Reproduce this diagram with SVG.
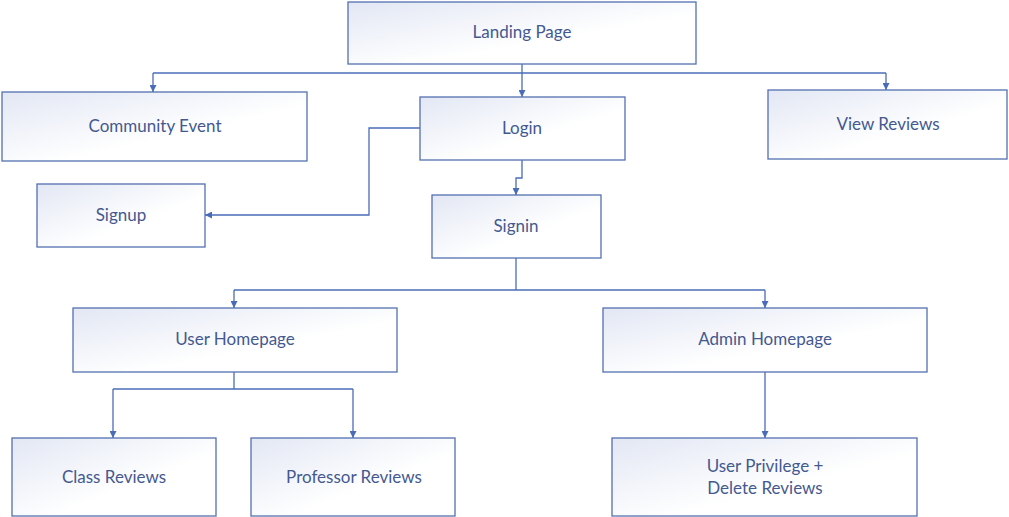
<svg xmlns="http://www.w3.org/2000/svg" width="1009" height="517" viewBox="0 0 1009 517">
<style>
.box{fill:url(#g);stroke:#5470b0;stroke-width:1.3}
.t{font-family:Lato,"Open Sans",sans-serif;font-size:17px;fill:#44598f;text-anchor:middle;dominant-baseline:central}
.c{fill:none;stroke:#4a6cb8;stroke-width:1.3}
</style>
<defs>
<linearGradient id="g" x1="0" y1="0" x2="1" y2="1">
<stop offset="0" stop-color="#e2e7f4"/>
<stop offset="0.6" stop-color="#ffffff"/>
</linearGradient>
<marker id="a" viewBox="0 0 10 10" refX="10" refY="5" markerWidth="7" markerHeight="7" orient="auto-start-reverse" markerUnits="userSpaceOnUse">
<path d="M0,0 L10,5 L0,10 z" fill="#4a6cb8"/>
</marker>
</defs>
<rect width="1009" height="517" fill="#ffffff"/>
<g id="connectors">
<path class="c" d="M522,64 V73"/>
<path class="c" d="M153,73 H886"/>
<path class="c" d="M153,73 V92" marker-end="url(#a)"/>
<path class="c" d="M522,73 V97" marker-end="url(#a)"/>
<path class="c" d="M886,73 V90" marker-end="url(#a)"/>
<path class="c" d="M420,128 H369 V215 H205" marker-end="url(#a)"/>
<path class="c" d="M522,160 V178 H516 V195" marker-end="url(#a)"/>
<path class="c" d="M516,258 V290"/>
<path class="c" d="M234,290 H765"/>
<path class="c" d="M234,290 V308" marker-end="url(#a)"/>
<path class="c" d="M765,290 V308" marker-end="url(#a)"/>
<path class="c" d="M234,372 V389"/>
<path class="c" d="M113,389 H353"/>
<path class="c" d="M113,389 V438" marker-end="url(#a)"/>
<path class="c" d="M353,389 V438" marker-end="url(#a)"/>
<path class="c" d="M765,372 V438" marker-end="url(#a)"/>
</g>
<g id="landing"><rect class="box" x="348" y="2" width="348" height="62"/><text class="t" x="522" y="31">Landing Page</text></g>
<g id="community"><rect class="box" x="2" y="92" width="305" height="69"/><text class="t" x="155" y="125">Community Event</text></g>
<g id="login"><rect class="box" x="420" y="97" width="205" height="63"/><text class="t" x="522" y="127">Login</text></g>
<g id="view"><rect class="box" x="768" y="90" width="239" height="69"/><text class="t" x="888" y="123">View Reviews</text></g>
<g id="signup"><rect class="box" x="37" y="184" width="168" height="63"/><text class="t" x="121" y="214">Signup</text></g>
<g id="signin"><rect class="box" x="432" y="195" width="169" height="63"/><text class="t" x="516" y="225">Signin</text></g>
<g id="userhome"><rect class="box" x="73" y="308" width="324" height="64"/><text class="t" x="235" y="338">User Homepage</text></g>
<g id="adminhome"><rect class="box" x="603" y="308" width="324" height="64"/><text class="t" x="765" y="338">Admin Homepage</text></g>
<g id="classrev"><rect class="box" x="12" y="438" width="204" height="78"/><text class="t" x="114" y="476">Class Reviews</text></g>
<g id="profrev"><rect class="box" x="251" y="438" width="204" height="78"/><text class="t" x="354" y="476">Professor Reviews</text></g>
<g id="privilege"><rect class="box" x="612" y="438" width="305" height="78"/><text class="t" x="765" y="465">User Privilege +</text><text class="t" x="765" y="487">Delete Reviews</text></g>
</svg>
